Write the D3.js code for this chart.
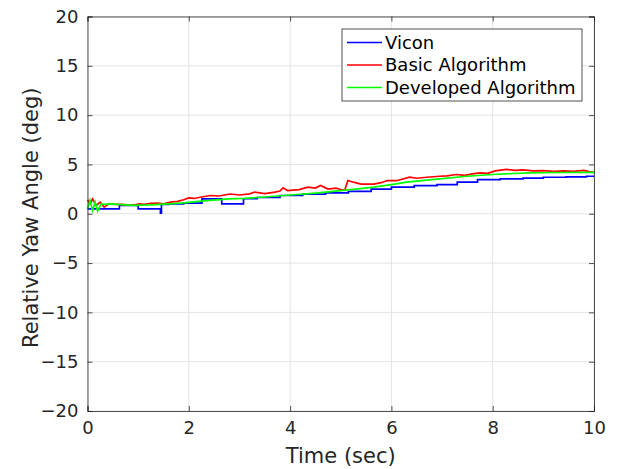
<!DOCTYPE html>
<html>
<head>
<meta charset="utf-8">
<script src="https://cdn.jsdelivr.net/npm/d3@7"></script>
<style>
  body { margin: 0; background: #fff; }
  svg { font-family: "DejaVu Sans", sans-serif; }
</style>
</head>
<body>
<div id="chart"></div>
<script>
// Donnees
const xTicks = [0, 2, 4, 6, 8, 10];
const yTicks = [-20, -15, -10, -5, 0, 5, 10, 15, 20];
const seriesNames = ['Vicon', 'Basic Algorithm', 'Developed Algorithm'];
const seriesColors = ['#0000ff', '#ff0000', '#00ff00'];

// Vicon : fonction en escalier
const viconT = [0, 0.63, 1.0, 1.44, 1.46, 1.6, 1.9, 2.26, 2.65, 3.08, 3.35, 3.8, 4.25, 4.7, 5.15, 5.6, 6.0, 6.45, 6.9, 7.3, 7.7, 8.15, 8.6, 9.0, 9.45, 9.85, 10];
const viconV = [0.5, 0.85, 0.5, 0.05, 0.95, 1.0, 1.08, 1.5, 1.0, 1.52, 1.65, 1.85, 2.0, 2.12, 2.26, 2.5, 2.7, 2.85, 2.95, 3.2, 3.45, 3.54, 3.62, 3.7, 3.74, 3.8, 3.8];

// Algorithme de base (bruite)
const basicT = [0, 0.05, 0.1, 0.17, 0.25, 0.33, 0.42, 0.55, 0.66, 0.8, 0.92, 1.02, 1.12, 1.25, 1.38, 1.5, 1.64, 1.78, 1.9, 2.0, 2.1, 2.25, 2.43, 2.6, 2.81, 3.0, 3.2, 3.3, 3.5, 3.7, 3.8, 3.86, 3.95, 4.05, 4.18, 4.35, 4.5, 4.6, 4.75, 4.9, 5.0, 5.08, 5.14, 5.25, 5.4, 5.65, 5.8, 5.92, 6.1, 6.36, 6.5, 6.7, 6.95, 7.1, 7.28, 7.45, 7.6, 7.75, 7.9, 8.05, 8.27, 8.45, 8.6, 8.8, 9.0, 9.2, 9.4, 9.6, 9.8, 9.9, 10];
const basicV = [1.42, 1.01, 1.52, 0.84, 1.18, 0.67, 1.0, 0.95, 0.95, 0.9, 0.88, 1.0, 0.95, 1.05, 1.08, 1.0, 1.18, 1.25, 1.42, 1.6, 1.55, 1.7, 1.85, 1.8, 2.0, 1.9, 2.02, 2.2, 2.05, 2.19, 2.3, 2.63, 2.35, 2.4, 2.45, 2.7, 2.6, 2.87, 2.5, 2.6, 2.46, 2.4, 3.37, 3.2, 3.0, 3.0, 3.15, 3.37, 3.35, 3.71, 3.6, 3.7, 3.8, 3.85, 3.98, 3.9, 4.05, 4.15, 4.1, 4.35, 4.49, 4.4, 4.45, 4.35, 4.38, 4.3, 4.35, 4.3, 4.4, 4.27, 4.2];

// Algorithme developpe (lisse)
const devT = [0, 0.05, 0.1, 0.15, 0.2, 0.27, 0.35, 0.45, 0.6, 0.9, 1.25, 1.6, 1.9, 2.3, 2.8, 3.1, 3.5, 4.0, 4.5, 4.9, 5.3, 5.65, 6.0, 6.3, 6.95, 7.5, 8.0, 8.7, 9.3, 10];
const devV = [0.5, 1.35, 0.34, 1.18, 0.27, 1.0, 0.95, 1.0, 0.95, 0.85, 0.9, 1.0, 1.1, 1.3, 1.5, 1.55, 1.7, 1.9, 2.1, 2.3, 2.5, 2.7, 2.95, 3.2, 3.54, 3.8, 3.98, 4.15, 4.18, 4.2];

const width = 618;
const height = 469;
const margin = { top: 16.5, right: 24, bottom: 58, left: 87.5 };

const svg = d3.select('#chart')
    .append('svg')
    .attr('width', width)
    .attr('height', height);

const x = d3.scaleLinear().domain([0, 10]).range([margin.left, width - margin.right]);
const y = d3.scaleLinear().domain([-20, 20]).range([height - margin.bottom, margin.top]);

// Grille
svg.append('g')
    .selectAll('line.vx')
    .data(xTicks)
    .enter()
    .append('line')
    .attr('x1', d => x(d)).attr('x2', d => x(d))
    .attr('y1', y(-20)).attr('y2', y(20))
    .attr('stroke', '#e3e3e3')
    .attr('stroke-width', 1);

svg.append('g')
    .selectAll('line.hy')
    .data(yTicks)
    .enter()
    .append('line')
    .attr('x1', x(0)).attr('x2', x(10))
    .attr('y1', d => y(d)).attr('y2', d => y(d))
    .attr('stroke', '#e3e3e3')
    .attr('stroke-width', 1);

// Courbes
const toPoints = (ts, vs) => ts.map((t, i) => ({ t: t, v: vs[i] }));

const stepLine = d3.line().x(d => x(d.t)).y(d => y(d.v)).curve(d3.curveStepAfter);
const plainLine = d3.line().x(d => x(d.t)).y(d => y(d.v));

svg.append('path')
    .datum(toPoints(viconT, viconV))
    .attr('d', stepLine)
    .attr('fill', 'none')
    .attr('stroke', seriesColors[0])
    .attr('stroke-width', 1.7);

svg.append('path')
    .datum(toPoints(basicT, basicV))
    .attr('d', plainLine)
    .attr('fill', 'none')
    .attr('stroke', seriesColors[1])
    .attr('stroke-width', 1.7);

svg.append('path')
    .datum(toPoints(devT, devV))
    .attr('d', plainLine)
    .attr('fill', 'none')
    .attr('stroke', seriesColors[2])
    .attr('stroke-width', 1.7);

// Axes (style MATLAB, ticks vers l'interieur, boite complete)
const axisColor = '#262626';

const xAxisBottom = d3.axisBottom(x).tickValues(xTicks).tickSize(-5).tickPadding(10).tickFormat(d3.format('d'));
const xAxisTop = d3.axisTop(x).tickValues(xTicks).tickSize(-5).tickFormat('');
const yAxisLeft = d3.axisLeft(y).tickValues(yTicks).tickSize(-5).tickPadding(9)
    .tickFormat(d => (d < 0 ? '\u2212' + Math.abs(d) : String(d)));
const yAxisRight = d3.axisRight(y).tickValues(yTicks).tickSize(-5).tickFormat('');

function styleAxis(g) {
    g.select('.domain').attr('stroke', axisColor).attr('stroke-width', 0.8);
    g.selectAll('.tick line').attr('stroke', axisColor).attr('stroke-width', 0.8);
    g.selectAll('.tick text')
        .attr('fill', '#262626')
        .style('font-size', '18px')
        .style('font-family', '"DejaVu Sans", sans-serif');
}

svg.append('g').attr('transform', `translate(0,${y(-20)})`).call(xAxisBottom).call(styleAxis);
svg.append('g').attr('transform', `translate(0,${y(20)})`).call(xAxisTop).call(styleAxis);
svg.append('g').attr('transform', `translate(${x(0)},0)`).call(yAxisLeft).call(styleAxis);
svg.append('g').attr('transform', `translate(${x(10)},0)`).call(yAxisRight).call(styleAxis);

// Titres des axes
svg.append('text')
    .attr('x', (x(0) + x(10)) / 2)
    .attr('y', 463)
    .attr('text-anchor', 'middle')
    .attr('fill', '#262626')
    .style('font-size', '21px')
    .text('Time (sec)');

svg.append('text')
    .attr('transform', `translate(38,${(y(-20) + y(20)) / 2 + 4}) rotate(-90)`)
    .attr('text-anchor', 'middle')
    .attr('fill', '#262626')
    .style('font-size', '21px')
    .text('Relative Yaw Angle (deg)');

// Legende
const legend = svg.append('g').attr('transform', 'translate(342,29)');

legend.append('rect')
    .attr('width', 240)
    .attr('height', 72)
    .attr('fill', '#fff')
    .attr('stroke', axisColor)
    .attr('stroke-width', 0.8);

seriesNames.forEach((name, i) => {
    const row = legend.append('g').attr('transform', `translate(0,${13.5 + i * 22.5})`);
    row.append('line')
        .attr('x1', 5).attr('x2', 40)
        .attr('y1', 0).attr('y2', 0)
        .attr('stroke', seriesColors[i])
        .attr('stroke-width', 1.6);
    row.append('text')
        .attr('x', 43)
        .attr('y', 0)
        .attr('dy', '0.35em')
        .attr('fill', '#000')
        .style('font-size', '18px')
        .text(name);
});
</script>
</body>
</html>
